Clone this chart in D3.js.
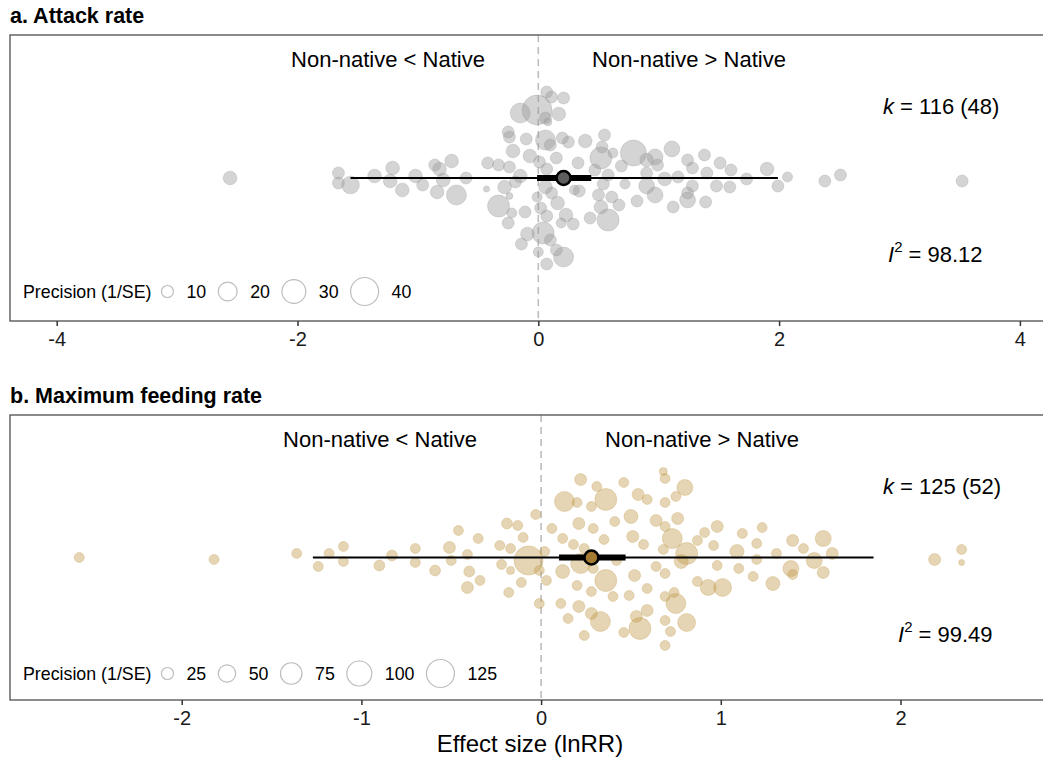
<!DOCTYPE html>
<html>
<head>
<meta charset="utf-8">
<script src="https://cdn.jsdelivr.net/npm/d3@7"></script>
<style>
  body { margin: 0; background: #fff; }
  svg { display: block; font-family: "Liberation Sans", Arial, sans-serif; }
</style>
</head>
<body>
<div id="chart"></div>
<script>
// ---- panel a: attack rate ----
const attackEffect = [-2.56,-1.66,-1.66,-1.56,-1.36,-1.21,-1.23,-1.13,-1.02,-0.96,
  -0.86,-0.82,-0.79,-0.72,-0.84,-0.68,-0.60,-0.42,-0.33,-0.24,
  -0.43,-0.33,-0.28,-0.24,-0.15,-0.19,-0.22,-0.25,-0.11,-0.14,
  -0.09,0.04,0.00,0.10,0.15,0.21,0.07,0.02,0.07,0.19,
  0.23,0.29,0.16,0.11,-0.01,0.06,0.07,0.01,0.15,0.33,
  0.34,0.43,0.58,0.50,0.54,0.61,0.52,0.52,0.62,0.55,
  0.53,0.39,0.25,0.20,0.10,0.06,-0.10,-0.07,-0.21,-0.24,
  -0.25,-0.15,-0.01,0.06,0.08,0.17,0.07,0.11,0.21,0.47,
  0.58,0.69,0.79,0.72,0.67,0.82,0.90,0.97,0.99,1.11,
  0.90,0.90,0.97,1.05,1.16,1.24,1.38,1.28,1.40,1.51,
  1.60,1.73,1.90,1.99,2.07,2.38,2.51,3.52,1.48,1.59,
  1.28,1.24,1.24,1.39,1.12,0.30];
// vertical jitter of each point, -1 (top) .. 1 (bottom)
const attackJitter = [0.00,-0.05,0.05,0.07,-0.02,-0.10,0.03,0.12,-0.02,0.07,
  -0.13,-0.09,0.02,-0.17,0.14,0.17,0.00,-0.15,-0.13,-0.11,
  0.11,0.28,0.09,0.18,-0.02,0.04,0.35,0.45,0.34,0.66,
  0.56,0.55,0.74,0.62,0.72,0.79,0.86,0.30,0.38,0.45,
  0.37,0.46,0.25,0.15,0.19,0.09,-0.09,-0.16,-0.20,-0.15,
  0.13,0.40,0.42,0.17,0.06,0.19,0.29,-0.20,-0.25,-0.43,
  -0.31,-0.37,-0.36,-0.40,-0.33,-0.38,-0.39,-0.22,-0.27,-0.41,
  -0.46,-0.65,-0.68,-0.60,-0.56,-0.64,-0.86,-0.81,-0.80,-0.08,
  -0.03,-0.12,-0.25,0.06,0.27,0.23,-0.18,-0.21,-0.13,-0.29,
  -0.05,0.08,0.17,0.01,-0.01,-0.18,-0.23,-0.10,-0.05,-0.15,
  -0.08,0.01,-0.09,0.08,-0.01,0.03,-0.03,0.03,0.08,0.09,
  0.08,0.15,0.22,0.24,0.29,0.12];
const attackPrecision = [12,10,10,18,12,12,12,12,12,10,
  10,12,12,12,12,22,10,10,10,10,
  5,26,12,5.5,12,10,8,10,10,10,
  12,26,8,10,10,22,10,10,10,8,
  12,10,12,10,8,12,10,10,10,10,
  10,10,26,10,10,10,12,26,8,10,
  10,12,10,10,10,22,10,12,12,10,
  10,22,45,10,6,12,10,10,10,10,
  10,10,35,8,10,10,12,15,10,15,
  10,15,15,12,10,10,10,10,10,10,
  10,10,12,10,8,10,10,10,10,10,
  10,10,15,10,10,8];
const attackEstimate = 0.21;
const attackCI = [-0.01, 0.44];
const attackPI = [-1.56, 1.99];
const attackTicks = [-4, -2, 0, 2, 4];
const attackLegend = [10, 20, 30, 40];
const attackK = ["116", "48"];
const attackI2 = "98.12";

// ---- panel b: maximum feeding rate ----
const feedEffect = [-2.57,-1.82,-1.36,-1.24,-1.18,-1.10,-1.10,-0.90,-0.83,-0.70,
  -0.70,-0.59,-0.51,-0.50,-0.46,-0.41,-0.40,-0.41,-0.34,-0.35,
  -0.19,-0.13,-0.10,-0.23,-0.17,-0.22,-0.17,-0.11,-0.18,-0.07,
  -0.03,-0.01,
  0.03,0.02,0.06,0.12,0.13,0.22,0.31,0.20,0.28,0.36,
  0.21,0.29,0.18,0.24,0.35,0.41,0.46,0.54,0.59,0.50,
  0.51,0.57,0.68,0.69,0.80,0.75,0.69,0.76,0.64,0.69,
  0.73,0.68,0.81,0.78,0.22,0.12,0.29,0.36,0.20,0.28,
  0.40,0.52,0.59,0.49,0.64,0.69,0.11,0.21,0.28,0.33,
  0.15,0.24,0.53,0.55,0.46,0.59,0.69,0.72,0.81,0.75,
  0.69,0.69,0.74,0.91,0.98,0.96,0.98,1.09,1.12,1.20,
  1.23,1.20,1.10,1.18,0.87,0.93,1.01,1.29,1.31,1.40,
  1.46,1.39,1.40,1.52,1.57,1.62,1.57,2.19,2.34,2.34,
  0.87,0.42,-0.01];
const feedJitter = [0.00,0.02,-0.04,0.09,-0.04,-0.11,0.04,0.08,-0.02,-0.09,
  0.05,0.13,-0.10,0.03,-0.27,-0.03,0.14,0.30,0.23,-0.19,
  -0.34,-0.32,-0.20,-0.12,-0.09,0.07,0.13,0.25,0.35,0.03,
  -0.43,0.46,
  0.23,-0.06,-0.29,-0.19,-0.56,-0.78,-0.71,-0.55,-0.51,-0.58,
  -0.34,-0.29,-0.13,-0.09,-0.18,-0.36,-0.75,-0.63,-0.58,-0.41,
  -0.21,-0.13,-0.86,-0.79,-0.70,-0.61,-0.55,-0.39,-0.37,-0.31,
  -0.19,-0.08,-0.04,0.04,0.06,0.14,0.11,0.23,0.28,0.34,
  0.39,0.18,0.31,0.38,0.09,0.16,0.46,0.49,0.56,0.64,
  0.61,0.78,0.59,0.71,0.75,0.53,0.63,0.74,0.65,0.46,
  0.39,0.88,0.35,-0.25,-0.31,-0.12,0.08,-0.06,-0.24,-0.14,
  -0.30,0.02,0.11,0.19,0.24,0.30,0.30,0.26,-0.04,-0.17,
  -0.09,0.11,0.17,0.03,-0.19,-0.04,0.15,0.02,-0.08,0.05,
  -0.17,0.03,0.13];
const feedPrecision = [18,18,18,18,18,18,18,21,21,18,
  18,21,25,18,18,18,21,25,18,18,
  21,18,18,18,18,18,12.5,18,18,135,
  18,18,
  18,18,18,18,65,25,18,18,18,78,
  25,18,18,18,18,18,18,25,18,33,
  25,18,12.5,18,42.5,18,18,25,25,18,
  65,18,78,33,65,33,18,78,18,18,
  18,25,18,18,18,18,18,25,25,65,
  18,18,25,78,18,25,18,18,53,65,
  18,18,18,18,25,18,18,33,18,18,
  18,18,18,18,18,42.5,53,33,18,25,
  18,42.5,18,42.5,42.5,25,25,25,18,8,
  18,18,18];
const feedEstimate = 0.28;
const feedCI = [0.10, 0.47];
const feedPI = [-1.27, 1.85];
const feedTicks = [-2, -1, 0, 1, 2];
const feedLegend = [25, 50, 75, 100, 125];
const feedK = ["125", "52"];
const feedI2 = "99.49";

const width = 1043, height = 760;
const svg = d3.select('#chart').append('svg')
    .attr('width', width)
    .attr('height', height);

function drawPanel(p) {
    const g = svg.append('g');
    const x = d3.scaleLinear().domain(p.tickDomain).range(p.tickRange);
    const yMid = (p.top + p.bottom) / 2;
    const y = d3.scaleLinear().domain([-1, 1]).range([yMid - 100, yMid + 100]);
    const r = d3.scaleRadial().domain(p.sizeDomain).range([6, 14]);

    const pts = p.effect.map((e, i) => ({e: e, j: p.jitter[i], prec: p.precision[i]}));

    // title
    g.append('text')
        .attr('x', 10)
        .attr('y', p.top - 12)
        .attr('font-size', 21.5)
        .attr('font-weight', 'bold')
        .attr('fill', '#000')
        .text(p.title);

    // zero line
    g.append('line')
        .attr('x1', x(0)).attr('x2', x(0))
        .attr('y1', p.top).attr('y2', p.bottom)
        .attr('stroke', '#bdbdbd')
        .attr('stroke-width', 1.6)
        .attr('stroke-dasharray', '7,5');

    // effect sizes
    g.append('g').selectAll('circle')
        .data(pts)
        .join('circle')
        .attr('cx', d => x(d.e))
        .attr('cy', d => y(d.j))
        .attr('r', d => r(d.prec))
        .attr('fill', p.pointColor)
        .attr('fill-opacity', 0.42)
        .attr('stroke', p.pointColor)
        .attr('stroke-opacity', 0.3)
        .attr('stroke-width', 1);

    // prediction interval, confidence interval, estimate
    g.append('line')
        .attr('x1', x(p.pi[0])).attr('x2', x(p.pi[1]))
        .attr('y1', yMid).attr('y2', yMid)
        .attr('stroke', '#000')
        .attr('stroke-width', 1.8);
    g.append('line')
        .attr('x1', x(p.ci[0])).attr('x2', x(p.ci[1]))
        .attr('y1', yMid).attr('y2', yMid)
        .attr('stroke', '#000')
        .attr('stroke-width', 6);
    g.append('circle')
        .attr('cx', x(p.estimate))
        .attr('cy', yMid)
        .attr('r', 7)
        .attr('fill', p.estColor)
        .attr('stroke', '#000')
        .attr('stroke-width', 2.6);

    // panel border (right edge falls outside the picture)
    g.append('rect')
        .attr('x', 10)
        .attr('y', p.top)
        .attr('width', 1070)
        .attr('height', p.bottom - p.top)
        .attr('fill', 'none')
        .attr('stroke', '#5a5a5a')
        .attr('stroke-width', 1.4);

    // axis
    const axis = g.append('g')
        .attr('transform', `translate(0,${p.bottom})`)
        .call(d3.axisBottom(x).tickValues(p.ticks).tickSize(5).tickPadding(6).tickFormat(d => String(d)));
    axis.select('.domain').remove();
    axis.selectAll('.tick line').attr('stroke', '#333').attr('stroke-width', 1.5);
    axis.selectAll('.tick text')
        .attr('font-size', 20)
        .attr('font-family', '"Liberation Sans", Arial, sans-serif')
        .attr('fill', '#1a1a1a');

    // direction labels
    const tFont = 22;
    g.append('text')
        .attr('x', p.lessX).attr('y', p.top + 32)
        .attr('text-anchor', 'middle')
        .attr('font-size', tFont)
        .text('Non-native < Native');
    g.append('text')
        .attr('x', p.moreX).attr('y', p.top + 32)
        .attr('text-anchor', 'middle')
        .attr('font-size', tFont)
        .text('Non-native > Native');

    // k and I^2
    const kt = g.append('text')
        .attr('x', 883).attr('y', p.top + 79)
        .attr('font-size', tFont);
    kt.append('tspan').attr('font-style', 'italic').text('k');
    kt.append('tspan').text(` = ${p.k[0]} (${p.k[1]})`);

    const it = g.append('text')
        .attr('x', p.i2X).attr('y', p.top + 227)
        .attr('font-size', tFont);
    it.append('tspan').attr('font-style', 'italic').text('I');
    it.append('tspan').attr('font-size', 15).attr('dy', -10).text('2');
    it.append('tspan').attr('dy', 10).text(` = ${p.i2}`);

    // size legend
    const lg = g.append('g');
    const lFont = 17.8;
    const lab = lg.append('text')
        .attr('x', 23).attr('y', p.legendBase)
        .attr('font-size', lFont)
        .text('Precision (1/SE)');
    let cx = 23 + lab.node().getComputedTextLength() + 10;
    p.legend.forEach(v => {
        const rr = r(v);
        cx += rr;
        lg.append('circle')
            .attr('cx', cx).attr('cy', p.legendMid)
            .attr('r', rr)
            .attr('fill', '#fff')
            .attr('stroke', '#bdbdbd')
            .attr('stroke-width', 1.2);
        const t = lg.append('text')
            .attr('x', cx + rr + 13).attr('y', p.legendBase)
            .attr('font-size', lFont)
            .text(v);
        cx = cx + rr + 13 + t.node().getComputedTextLength() + 12;
    });
}

drawPanel({
    title: 'a. Attack rate',
    top: 35, bottom: 321,
    tickDomain: [-4, 4], tickRange: [56.7, 1019.9],
    sizeDomain: [10, 40],
    effect: attackEffect, jitter: attackJitter, precision: attackPrecision,
    estimate: attackEstimate, ci: attackCI, pi: attackPI,
    ticks: attackTicks, legend: attackLegend,
    k: attackK, i2: attackI2,
    pointColor: '#999999', estColor: '#5e5e5e',
    lessX: 388, moreX: 689, i2X: 888,
    legendMid: 291.5, legendBase: 297.5
});

drawPanel({
    title: 'b. Maximum feeding rate',
    top: 415, bottom: 700,
    tickDomain: [-2, 2], tickRange: [181.7, 900.5],
    sizeDomain: [25, 125],
    effect: feedEffect, jitter: feedJitter, precision: feedPrecision,
    estimate: feedEstimate, ci: feedCI, pi: feedPI,
    ticks: feedTicks, legend: feedLegend,
    k: feedK, i2: feedI2,
    pointColor: '#c29a4c', estColor: '#a57a32',
    lessX: 380, moreX: 702, i2X: 898,
    legendMid: 673.5, legendBase: 679.5
});

svg.append('text')
    .attr('x', 530)
    .attr('y', 752)
    .attr('text-anchor', 'middle')
    .attr('font-size', 24)
    .text('Effect size (lnRR)');
</script>
</body>
</html>
